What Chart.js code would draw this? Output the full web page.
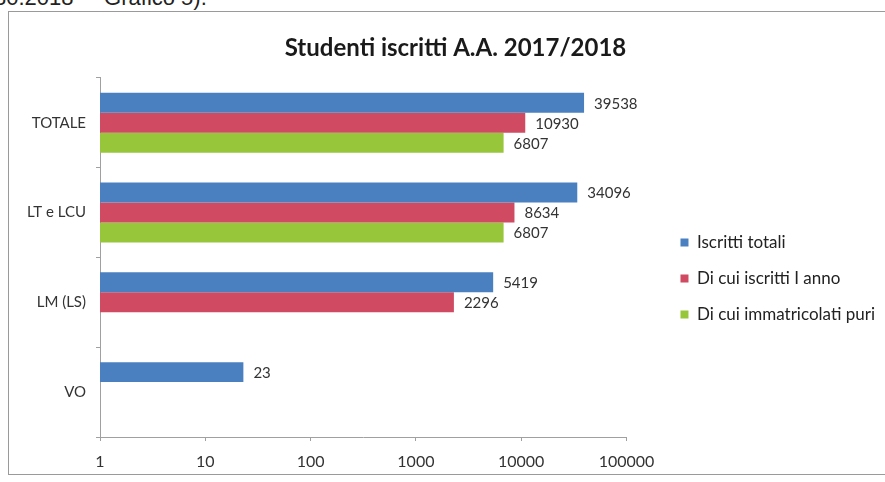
<!DOCTYPE html>
<html>
<head>
<meta charset="utf-8">
<script src="https://cdn.jsdelivr.net/npm/chart.js@4/dist/chart.umd.min.js"></script>
<style>
  html, body { margin: 0; padding: 0; background: #ffffff; width: 885px; height: 482px; overflow: hidden; }
  #topline { position: absolute; left: -6px; top: -15px; font-family: 'Liberation Sans', Arial, sans-serif; font-size: 22px; color: #222; white-space: nowrap; }
  #frame { position: absolute; left: 8px; top: 11px; width: 900px; height: 464px; border: 1px solid #9a9a9a; box-sizing: border-box; }
  #wrap { position: absolute; left: 9px; top: 12px; width: 876px; height: 463px; }
</style>
</head>
<body>
<div id="topline">30.2018 –&nbsp; Grafico 5).</div>
<div id="frame"></div>
<div id="wrap"><canvas id="c" width="876" height="463"></canvas></div>
<script>
// ---- data ----
const categories = ['TOTALE', 'LT e LCU', 'LM (LS)', 'VO'];
const seriesNames = ['Iscritti totali', 'Di cui iscritti I anno', 'Di cui immatricolati puri'];
const iscrittiTotali = [39538, 34096, 5419, 23];
const iscrittiIAnno = [10930, 8634, 2296, null];
const immatricolatiPuri = [6807, 6807, null, null];
const xTickValues = [1, 10, 100, 1000, 10000, 100000];
const chartTitle = 'Studenti iscritti A.A. 2017/2018';

const colors = ['#4a80c0', '#d04a62', '#97c63a'];
const fontFamily = "Lato, 'Open Sans', sans-serif";

const valueLabels = {
  id: 'valueLabels',
  afterDatasetsDraw(chart) {
    const ctx = chart.ctx;
    ctx.save();
    ctx.font = '15px ' + fontFamily;
    ctx.fillStyle = '#333';
    ctx.textAlign = 'left';
    ctx.textBaseline = 'middle';
    chart.data.datasets.forEach((ds, i) => {
      const meta = chart.getDatasetMeta(i);
      meta.data.forEach((el, j) => {
        const v = ds.data[j];
        if (v === null || v === undefined) return;
        ctx.fillText(String(v), el.x + 10, el.y + 1);
      });
    });
    ctx.restore();
  }
};

const boxShift = {
  id: 'boxShift',
  afterLayout(chart) {
    const lg = chart.legend;
    lg.left += 35; lg.right += 35;
    lg.top += 35; lg.bottom += 35;
    const t = chart.titleBlock;
    if (t) { t.left += 26; t.right += 26; }
  }
};

new Chart(document.getElementById('c'), {
  type: 'bar',
  data: {
    labels: categories,
    datasets: [
      { label: seriesNames[0], data: iscrittiTotali, backgroundColor: colors[0] },
      { label: seriesNames[1], data: iscrittiIAnno, backgroundColor: colors[1] },
      { label: seriesNames[2], data: immatricolatiPuri, backgroundColor: colors[2] }
    ]
  },
  options: {
    indexAxis: 'y',
    responsive: false,
    animation: false,
    devicePixelRatio: 1,
    datasets: { bar: { categoryPercentage: 0.667, barPercentage: 1.0, borderWidth: 0 } },
    layout: { padding: { left: 0, right: 35, top: 0, bottom: 0 } },
    plugins: {
      title: {
        display: true,
        text: chartTitle,
        color: '#1a1a1a',
        font: { family: fontFamily, size: 24, weight: 'bold' },
        padding: { top: 22, bottom: 15 }
      },
      legend: {
        position: 'right',
        maxWidth: 300,
        labels: {
          boxWidth: 8, boxHeight: 8, padding: 19,
          color: '#222',
          font: { family: fontFamily, size: 17 }
        }
      },
      tooltip: { enabled: false }
    },
    scales: {
      y: {
        type: 'category',
        grid: { display: true, drawOnChartArea: false, offset: true, tickLength: 4, color: '#a0a0a0' },
        border: { color: '#a0a0a0' },
        ticks: { color: '#333', font: { family: fontFamily, size: 15 }, padding: 10 },
        afterFit(s) { s.width = 91; }
      },
      x: {
        type: 'logarithmic',
        min: 1,
        max: 100000,
        afterBuildTicks(s) { s.ticks = xTickValues.map(v => ({ value: v })); },
        grid: { display: true, drawOnChartArea: false, tickLength: 4, color: '#a0a0a0' },
        border: { color: '#a0a0a0' },
        ticks: {
          color: '#333', font: { family: fontFamily, size: 16 }, padding: 11,
          autoSkip: false, maxRotation: 0,
          callback: (v) => String(v)
        },
        afterFit(s) { s.height = 38; }
      }
    }
  },
  plugins: [valueLabels, boxShift]
});
</script>
</body>
</html>
